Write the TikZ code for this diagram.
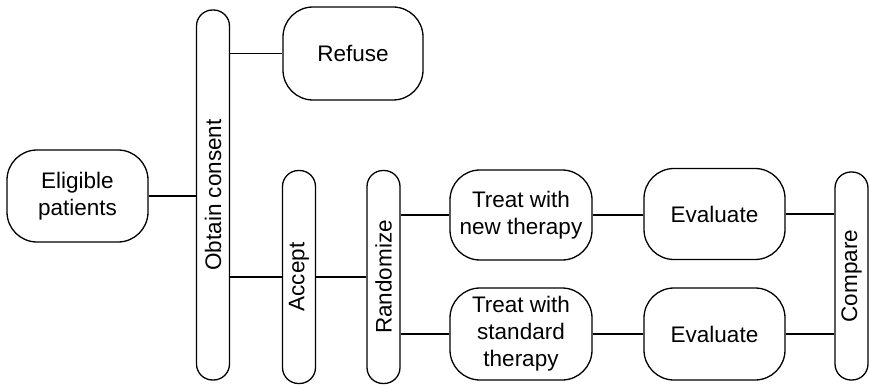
\documentclass[tikz,border=0pt]{standalone}
\usepackage{fontspec}
\setmainfont{Liberation Sans}
\begin{document}
\begin{tikzpicture}[x=1pt,y=-1pt,
  box/.style={draw,line width=1.3pt,rounded corners=30pt,align=center,
    font=\fontsize{22.5}{27}\selectfont,inner sep=0pt},
  pill/.style={draw,line width=1.3pt,rounded corners=16pt,
    font=\fontsize{22.5}{27}\selectfont,inner sep=0pt,minimum width=33pt},
  conn/.style={line width=1.3pt}]
\useasboundingbox (0,0) rectangle (870,385);
\node[box,minimum width=141pt,minimum height=92pt] (elig) at (77.5,196) {Eligible\\patients};
\node[pill,minimum height=370pt] (obt) at (213,195) {\rotatebox{90}{Obtain consent}};
\node[box,minimum width=140pt,minimum height=93pt] (ref) at (353,53.5) {Refuse};
\node[pill,minimum height=213pt] (acc) at (299,277) {\rotatebox{90}{Accept}};
\node[pill,minimum height=213pt] (rand) at (383.5,277) {\rotatebox{90}{Randomize}};
\node[box,minimum width=142pt,minimum height=90pt] (tnew) at (521,215) {Treat with\\new therapy};
\node[box,minimum width=142pt,minimum height=92pt] (tstd) at (521,334) {Treat with\\standard\\therapy};
\node[box,minimum width=141pt,minimum height=91pt] (ev1) at (714.5,214) {Evaluate};
\node[box,minimum width=141pt,minimum height=92pt] (ev2) at (714.5,334) {Evaluate};
\node[pill,minimum height=208pt] (cmp) at (851.5,276) {\rotatebox{90}{Compare}};
\draw[conn] (elig.east) -- (elig.east -| obt.west);
\draw[conn] (ref.west) -- (ref.west -| obt.east);
\draw[conn] (acc.west) -- (acc.west -| obt.east);
\draw[conn] (acc.east) -- (acc.east -| rand.west);
\draw[conn] (tnew.west) -- (tnew.west -| rand.east);
\draw[conn] (tstd.west) -- (tstd.west -| rand.east);
\draw[conn] (tnew.east) -- (ev1.west |- tnew.east);
\draw[conn] (tstd.east) -- (ev2.west |- tstd.east);
\draw[conn] (ev1.east) -- (ev1.east -| cmp.west);
\draw[conn] (ev2.east) -- (ev2.east -| cmp.west);
\end{tikzpicture}
\end{document}
